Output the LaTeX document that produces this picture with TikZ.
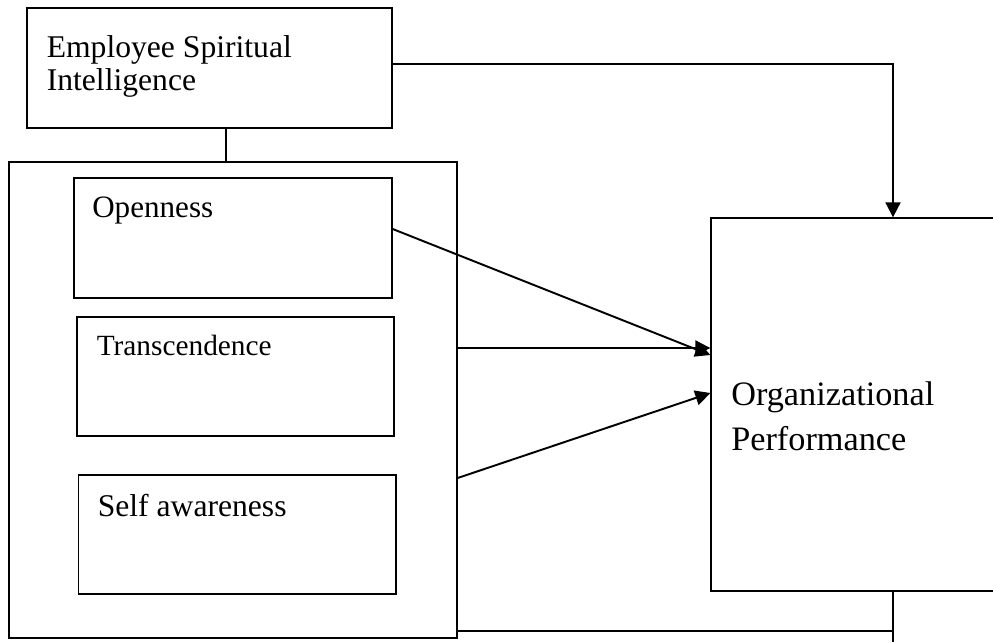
\documentclass[tikz,border=0pt]{standalone}
\usepackage{fontspec}
\setmainfont{Liberation Serif}
\usetikzlibrary{arrows.meta}

\begin{document}
\begin{tikzpicture}[x=0.02cm,y=-0.02cm,->,>={Triangle[length=0.3cm,width=0.3cm]},
    line width=1.1pt,main box/.style={rectangle,draw,line width=0.8pt,inner sep=0pt},
    box text/.style={anchor=north west,inner sep=0pt,align=left}]

   \useasboundingbox (0,0) rectangle (993,642);
   \clip (0,0) rectangle (993,642);

   \node[main box,minimum width=7.3cm,minimum height=2.4cm,
     label={[box text,xshift=0.39cm,yshift=-0.546cm,font={\fontsize{18}{19}\selectfont}]north west:Employee Spiritual\\Intelligence}] (esi) at (209.5,68) {};
   \node[main box,minimum width=8.96cm,minimum height=9.52cm] (outer) at (233,400) {};
   \node[main box,minimum width=6.36cm,minimum height=2.4cm,
     label={[box text,xshift=0.36cm,yshift=-0.38cm,font={\fontsize{17.7}{19}\selectfont}]north west:Openness}] (open) at (233,238) {};
   \node[main box,minimum width=6.34cm,minimum height=2.38cm,
     label={[box text,xshift=0.39cm,yshift=-0.36cm,font={\fontsize{16.7}{19}\selectfont}]north west:Transcendence}] (trans) at (235.5,376.5) {};
   \node[main box,minimum width=6.35cm,minimum height=2.38cm,
     label={[box text,xshift=0.38cm,yshift=-0.37cm,font={\fontsize{18}{19}\selectfont}]north west:Self awareness}] (self) at (237.25,534.5) {};
   \node[main box,minimum width=6cm,minimum height=7.46cm,
     label={[box text,xshift=0.4cm,yshift=-3.27cm,font={\fontsize{19.5}{25.6}\selectfont}]north west:Organizational\\Performance}] (perf) at (861,404.5) {};

   \coordinate (foot) at (893,642);

   \path[-] (esi.south -| 226,0) edge (outer.north -| 226,0);
   \draw (esi.east |- 0,64) -| (perf.north -| foot);
   \draw (open.east |- 0,229) -- (perf.west |- 0,355);
   \draw (outer.east |- 0,348) -- (perf.west |- 0,348);
   \draw (outer.east |- 0,478) -- (perf.west |- 0,393);
   \path[-] (perf.south -| foot) edge (foot);
   \path[-] (outer.east |- 0,631) edge (foot |- 0,631);

\end{tikzpicture}
\end{document}
